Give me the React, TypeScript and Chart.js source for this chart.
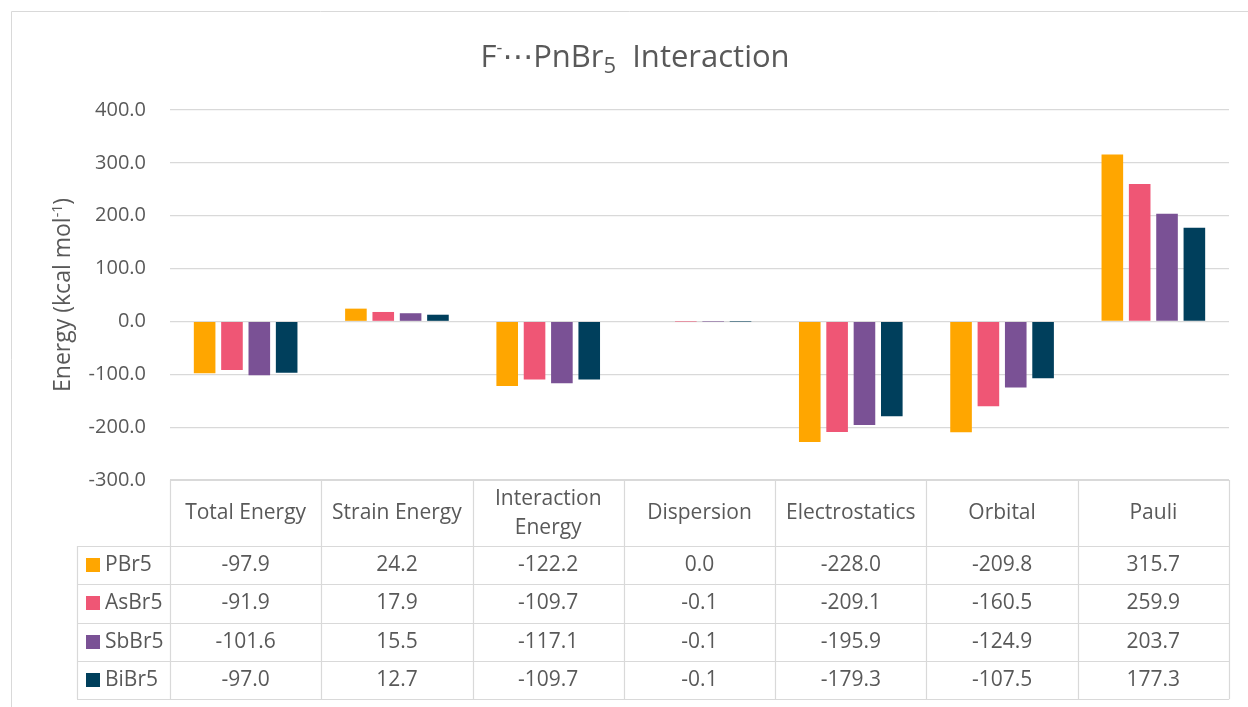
import React, { useEffect, useRef } from "react";
import { Chart, registerables } from "chart.js";

Chart.register(...registerables);

const categories = ["Total Energy", "Strain Energy", "Interaction Energy", "Dispersion", "Electrostatics", "Orbital", "Pauli"];
const seriesNames = ["PBr5", "AsBr5", "SbBr5", "BiBr5"];
const pbr5 = [-97.9, 24.2, -122.2, 0.0, -228.0, -209.8, 315.7];
const asbr5 = [-91.9, 17.9, -109.7, -0.1, -209.1, -160.5, 259.9];
const sbbr5 = [-101.6, 15.5, -117.1, -0.1, -195.9, -124.9, 203.7];
const bibr5 = [-97.0, 12.7, -109.7, -0.1, -179.3, -107.5, 177.3];
const seriesColors = ["#FFA600", "#EF5675", "#7A5195", "#003F5C"];
const yMin = -300;
const yMax = 400;
const yStep = 100;

const FONT = "'Open Sans', 'Noto Sans', 'DejaVu Sans', sans-serif";
const TEXT = "#595959";
const LINE = "#D9D9D9";

type Part = { t: string; size: number; dy: number };

function drawParts(ctx: CanvasRenderingContext2D, parts: Part[], cx: number, baseline: number) {
  let total = 0;
  const widths = parts.map((p) => {
    ctx.font = `${p.size}px ${FONT}`;
    const w = ctx.measureText(p.t).width;
    total += w;
    return w;
  });
  let x = cx - total / 2;
  ctx.textAlign = "left";
  ctx.textBaseline = "alphabetic";
  parts.forEach((p, i) => {
    ctx.font = `${p.size}px ${FONT}`;
    ctx.fillText(p.t, x, baseline + p.dy);
    x += widths[i];
  });
}

const decorPlugin = {
  id: "decor",
  afterDraw(chart: any) {
    const ctx: CanvasRenderingContext2D = chart.ctx;
    const area = chart.chartArea;
    ctx.save();

    // outer frame
    ctx.strokeStyle = LINE;
    ctx.lineWidth = 1;
    ctx.beginPath();
    ctx.moveTo(11.5, 707);
    ctx.lineTo(11.5, 11.5);
    ctx.lineTo(1248, 11.5);
    ctx.stroke();

    // title
    ctx.fillStyle = TEXT;
    drawParts(
      ctx,
      [
        { t: "F", size: 31, dy: 0 },
        { t: "-", size: 18, dy: -13 },
        { t: "\u22EF", size: 31, dy: 0 },
        { t: "PnBr", size: 31, dy: 0 },
        { t: "5", size: 22, dy: 6 },
        { t: "  Interaction", size: 31, dy: 0 },
      ],
      635,
      67
    );

    // y axis title
    ctx.save();
    ctx.translate(62, (area.top + area.bottom) / 2);
    ctx.rotate(-Math.PI / 2);
    drawParts(
      ctx,
      [
        { t: "Energy (kcal mol", size: 23, dy: 0 },
        { t: "-1", size: 14, dy: -8 },
        { t: ")", size: 23, dy: 0 },
      ],
      0,
      8
    );
    ctx.restore();

    // data table
    const left = area.left;
    const right = area.right;
    const n = categories.length;
    const colW = (right - left) / n;
    const headTop = area.bottom;
    const headBottom = headTop + 66;
    const rowH = 38.3;
    const legLeft = 77;
    const rows = seriesNames.length;
    const tableBottom = headBottom + rowH * rows;

    ctx.strokeStyle = LINE;
    ctx.lineWidth = 1.2;
    ctx.beginPath();
    ctx.moveTo(left, Math.round(headTop) + 0.5);
    ctx.lineTo(right, Math.round(headTop) + 0.5);
    for (let r = 0; r <= rows; r++) {
      const y = Math.round(headBottom + r * rowH) + 0.5;
      ctx.moveTo(legLeft, y);
      ctx.lineTo(right, y);
    }
    for (let c = 0; c <= n; c++) {
      const x = Math.round(left + c * colW) + 0.5;
      ctx.moveTo(x, headTop);
      ctx.lineTo(x, tableBottom);
    }
    ctx.moveTo(legLeft + 0.5, headBottom);
    ctx.lineTo(legLeft + 0.5, tableBottom);
    ctx.stroke();

    ctx.fillStyle = TEXT;
    ctx.font = `21px ${FONT}`;
    ctx.textAlign = "center";
    ctx.textBaseline = "middle";
    const headMid = (headTop + headBottom) / 2;
    categories.forEach((cat, c) => {
      const cx = left + (c + 0.5) * colW;
      if (ctx.measureText(cat).width > colW - 10) {
        const words = cat.split(" ");
        const l1 = words.slice(0, Math.ceil(words.length / 2)).join(" ");
        const l2 = words.slice(Math.ceil(words.length / 2)).join(" ");
        ctx.fillText(l1, cx, headMid - 14);
        ctx.fillText(l2, cx, headMid + 15);
      } else {
        ctx.fillText(cat, cx, headMid);
      }
    });

    chart.data.datasets.forEach((ds: any, r: number) => {
      const cy = headBottom + (r + 0.5) * rowH;
      ctx.fillStyle = seriesColors[r];
      ctx.fillRect(86, Math.round(cy - 7), 14, 14);
      ctx.fillStyle = TEXT;
      ctx.textAlign = "left";
      ctx.fillText(ds.label, 105, cy);
      ctx.textAlign = "center";
      ds.data.forEach((v: number, c: number) => {
        const cx = left + (c + 0.5) * colW;
        ctx.fillText(v.toFixed(1), cx, cy);
      });
    });

    ctx.restore();
  },
};

export default function App() {
  const ref = useRef<HTMLCanvasElement | null>(null);
  useEffect(() => {
    document.body.style.margin = "0";
    const canvas = ref.current;
    if (!canvas) return;
    const allSeries = [pbr5, asbr5, sbbr5, bibr5];
    const chart = new Chart(canvas, {
      type: "bar",
      data: {
        labels: categories,
        datasets: seriesNames.map((name, i) => ({
          label: name,
          data: allSeries[i],
          backgroundColor: seriesColors[i],
          borderWidth: 0,
          categoryPercentage: 0.723,
          barPercentage: 0.79,
        })),
      },
      options: {
        responsive: false,
        animation: false,
        devicePixelRatio: 1,
        layout: { padding: { left: 0, top: 110, right: 19, bottom: 227 } },
        plugins: {
          legend: { display: false },
          title: { display: false },
          tooltip: { enabled: false },
        },
        scales: {
          x: { display: false },
          y: {
            min: yMin,
            max: yMax,
            afterFit: (axis: any) => {
              axis.width = 170;
            },
            border: { display: false },
            grid: { color: LINE, lineWidth: 1.2, drawTicks: false },
            ticks: {
              stepSize: yStep,
              padding: 24,
              color: TEXT,
              font: { family: FONT, size: 20 },
              callback: (v: any) => Number(v).toFixed(1),
            },
          },
        },
      },
      plugins: [decorPlugin],
    });
    return () => chart.destroy();
  }, []);
  return (
    <div style={{ width: 1248, height: 707, background: "#fff" }}>
      <canvas ref={ref} width={1248} height={707} style={{ display: "block" }} />
    </div>
  );
}
